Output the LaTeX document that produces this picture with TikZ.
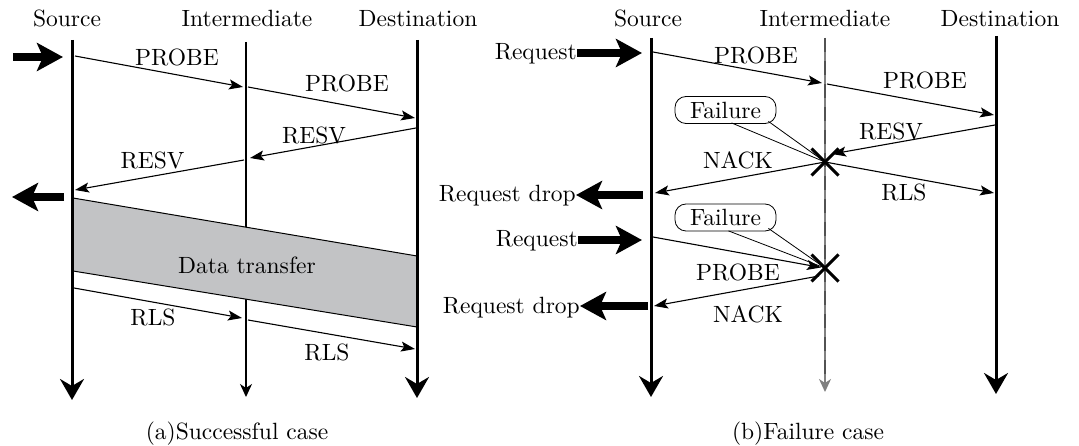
\documentclass[tikz,border=0pt]{standalone}
\usepackage{fontspec}
\setmainfont{lmroman10-regular.otf}
\usetikzlibrary{arrows.meta,shapes.misc}
\definecolor{datagray}{RGB}{194,195,197}
\begin{document}
\begin{tikzpicture}[x=1pt,y=-1pt,
  font=\fontsize{23.5}{28}\selectfont,
  life/.style={line width=3pt,-{Stealth[length=21pt,width=24pt,inset=7pt]}},
  lifethin/.style={line width=1.3pt,-{Stealth[length=13pt,width=12pt,inset=4pt]}},
  msg/.style={line width=1.1pt,-{Stealth[length=14pt,width=10pt,inset=3pt]}},
  bigarrow/.style={line width=8pt,-{Stealth[length=26pt,width=28pt,inset=6pt]}},
  lbl/.style={inner sep=0pt},
  bubble/.style={draw,line width=0.8pt,rounded corners=11pt,minimum width=101pt,minimum height=27pt,inner sep=0pt},
  callout/.style={line width=0.8pt},
  xmark/.style={cross out,draw,line width=3pt,minimum size=27pt,inner sep=0pt,outer sep=0pt},
]
\useasboundingbox (0,0) rectangle (1079,446);

% ---------- (a) successful case ----------
\node[lbl,anchor=base] (ha1) at (67,27) {Source};
\node[lbl,anchor=base] (ha2) at (247,27) {Intermediate};
\node[lbl,anchor=base] (ha3) at (418,27) {Destination};

\coordinate (aS0) at (72,40);  \coordinate (aS1) at (72,400);
\coordinate (aI0) at (246,42); \coordinate (aI1) at (246,397);
\coordinate (aD0) at (417,40); \coordinate (aD1) at (417,398);

\draw[lifethin] (aI0) -- (aI1);

% data transfer band
\coordinate (dt1) at (73,198);  \coordinate (dt2) at (417,256);
\coordinate (dt3) at (417,327); \coordinate (dt4) at (73,271);
\fill[datagray] (dt1) -- (dt2) -- (dt3) -- (dt4) -- cycle;
\draw[line width=1pt] (dt1) -- (dt2) (dt4) -- (dt3);
\node[lbl] (dtl) at (247,265) {Data transfer};

\draw[life] (aS0) -- (aS1);
\draw[life] (aD0) -- (aD1);

% request in / out
\coordinate (ain0) at (13,57);  \coordinate (ain1) at (63,57);
\draw[bigarrow] (ain0) -- (ain1);
\coordinate (aout0) at (64,197); \coordinate (aout1) at (12,197);
\draw[bigarrow] (aout0) -- (aout1);

% messages
\coordinate (ap1a) at (75,56);   \coordinate (ap1b) at (243,87);
\coordinate (ap2a) at (248,87);  \coordinate (ap2b) at (415,118);
\coordinate (ar1a) at (416,128); \coordinate (ar1b) at (250,158);
\coordinate (ar2a) at (244,160); \coordinate (ar2b) at (75,190);
\coordinate (al1a) at (74,288);  \coordinate (al1b) at (242,318);
\coordinate (al2a) at (248,320); \coordinate (al2b) at (415,349);
\draw[msg] (ap1a) -- (ap1b);
\draw[msg] (ap2a) -- (ap2b);
\draw[msg] (ar1a) -- (ar1b);
\draw[msg] (ar2a) -- (ar2b);
\draw[msg] (al1a) -- (al1b);
\draw[msg] (al2a) -- (al2b);

\node[lbl] (lap1) at (177,57.5) {PROBE};
\node[lbl] (lap2) at (347,83) {PROBE};
\node[lbl] (lar1) at (314,135.5) {RESV};
\node[lbl] (lar2) at (152.5,160) {RESV};
\node[lbl] (lal1) at (153,317) {RLS};
\node[lbl] (lal2) at (327,352) {RLS};

\node[lbl,anchor=base] (capa) at (237,439) {(a)Successful case};

% ---------- (b) failure case ----------
\node[lbl,anchor=base] (hb1) at (648,27) {Source};
\node[lbl,anchor=base] (hb2) at (825,27) {Intermediate};
\node[lbl,anchor=base] (hb3) at (1000,27) {Destination};

\coordinate (bS0) at (651,38);  \coordinate (bS1) at (651,397);
\coordinate (bI0) at (825,38);  \coordinate (bI1) at (825,392);
\coordinate (bD0) at (996,36);  \coordinate (bD1) at (996,394);

\draw[lifethin,black!50] (bI0) -- (bI1);
\draw[line width=1.1pt,black!68,dash pattern=on 14pt off 9pt] (bI0) -- ([yshift=14pt]bI1);
\draw[life] (bS0) -- (bS1);
\draw[life] (bD0) -- (bD1);

% failure points
\node[xmark] (x1) at (825,162) {};
\node[xmark] (x2) at (825,268) {};

% failure callouts
\node[bubble] (f1) at (725.5,110) {Failure};
\node[bubble] (f2) at (725.5,217.5) {Failure};
\draw[callout] ([xshift=6pt,yshift=1pt]f1.south) -- (x1.center);
\draw[callout] ([xshift=-8pt,yshift=2.5pt]f1.south east) -- (x1.center);
\draw[callout] ([xshift=3pt,yshift=0.5pt]f2.south) -- (x2.center);
\draw[callout] ([xshift=-8pt,yshift=3pt]f2.south east) -- (x2.center);

% requests and drops
\node[lbl,anchor=base east] (rq1) at (577,60) {Request};
\node[lbl,anchor=base east] (rd1) at (576,202) {Request drop};
\node[lbl,anchor=base east] (rq2) at (578,247) {Request};
\node[lbl,anchor=base east] (rd2) at (580,314) {Request drop};
\draw[bigarrow] (rq1.east |- 0,53) -- (642,53);
\draw[bigarrow] (643,195) -- (rd1.east |- 0,195);
\draw[bigarrow] (rq2.east |- 0,240) -- (642,240);
\draw[bigarrow] (648,306) -- (rd2.east |- 0,306);

% messages
\coordinate (bp1a) at (653,52);  \coordinate (bp1b) at (822,83);
\coordinate (bp2a) at (827,84);  \coordinate (bp2b) at (994,115);
\coordinate (brsa) at (995,125); \coordinate (brsb) at (832,154);
\coordinate (bls0) at (994,193);
\coordinate (bn1b) at (655,193);
\coordinate (bp3a) at (653,237); \coordinate (bp3b) at (821,267.5);
\coordinate (bn2a) at (819,276); \coordinate (bn2b) at (654,306);
\draw[msg] (bp1a) -- (bp1b);
\draw[msg] (bp2a) -- (bp2b);
\draw[msg] (brsa) -- (brsb);
\draw[msg] (x1.center) -- (bn1b);
\draw[msg] (x1.center) -- (bls0);
\draw[msg] (bp3a) -- (bp3b);
\draw[msg] (bn2a) -- (bn2b);

\node[lbl] (lbp1) at (756,55) {PROBE};
\node[lbl] (lbp2) at (925,80) {PROBE};
\node[lbl] (lbrs) at (891,131) {RESV};
\node[lbl] (lbn1) at (738,160) {NACK};
\node[lbl] (lbls) at (904,192) {RLS};
\node[lbl] (lbp3) at (738,272) {PROBE};
\node[lbl] (lbn2) at (748,314) {NACK};

\node[lbl,anchor=base] (capb) at (808,439) {(b)Failure case};
\end{tikzpicture}
\end{document}
